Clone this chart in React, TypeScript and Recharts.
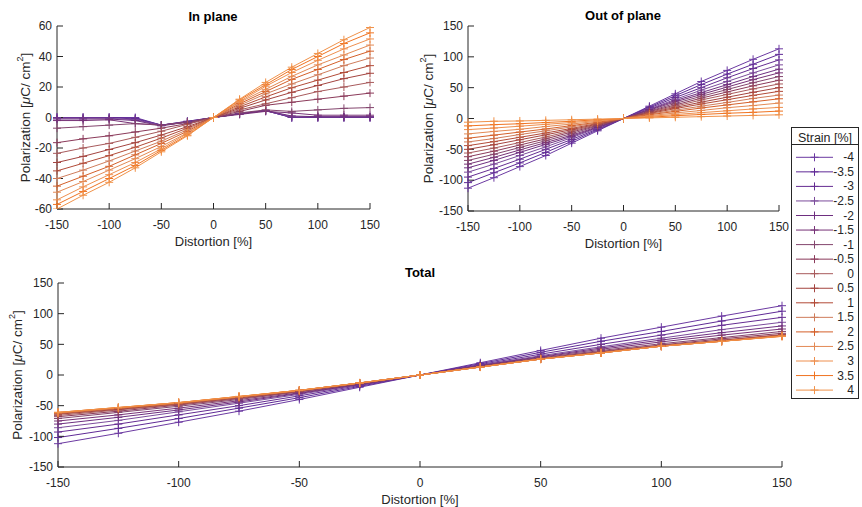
import React from 'react';
import { LineChart, Line, XAxis, YAxis } from 'recharts';

const distortion = [-150, -125, -100, -75, -50, -25, 0, 25, 50, 75, 100, 125, 150];
const strains = ['-4', '-3.5', '-3', '-2.5', '-2', '-1.5', '-1', '-0.5', '0', '0.5', '1', '1.5', '2', '2.5', '3', '3.5', '4'];
const strainColors = [
  '#6c3aa2', '#5f2a96', '#652c92', '#7c4c9c', '#6e2f80', '#773277', '#84466e', '#8b3a5a', '#a85a5c',
  '#a4443f', '#b24b38', '#cf7d5c', '#d4602a', '#e38a55', '#ee8f4f', '#f07422', '#f0924a',
];
const xTicks = [-150, -100, -50, 0, 50, 100, 150];
const inPlaneTicks = [-60, -40, -20, 0, 20, 40, 60];
const bigTicks = [-150, -100, -50, 0, 50, 100, 150];

// one row per strain, one value per distortion step
const inPlane = [
  [0, 0, 0, 0, -5, -2.5, 0, 2.5, 4.5, 0, 0, 0, 0],
  [0, 0, 0, -0.5, -5, -2.5, 0, 2.5, 4.5, 0, 0, 0, 0],
  [0, 0, 0, -1, -5, -3, 0, 2.5, 4.5, 0, 0, 0, 0],
  [-0.5, -0.5, -0.5, -1.5, -5, -3, 0, 2.5, 4.5, 0.5, 0.5, 0.5, 0.5],
  [-1, -1, -1, -2, -5.5, -3, 0, 2.5, 4.5, 1, 0.5, 0.5, 0.5],
  [-2, -2, -1.5, -4, -5, -3, 0, 2, 4, 3, 1.5, 1.5, 1.5],
  [-7, -6, -5, -4, -5, -3, 0, 3, 5, 4, 5, 6, 6.5],
  [-16.5, -14, -12, -9.5, -7, -4, 0, 4, 8, 10, 12, 14, 16],
  [-23.5, -20, -17, -13, -9, -4.5, 0, 5, 9, 13, 17, 20, 23],
  [-29.5, -25.5, -21, -16.5, -11.5, -6, 0, 6, 11.5, 16.5, 21, 25.5, 29],
  [-35, -30, -25, -19.5, -13.5, -7, 0, 7, 13.5, 19.5, 24.5, 29.5, 34],
  [-40, -34.5, -28.5, -22, -15.5, -8, 0, 8, 15.5, 22, 28, 34, 39],
  [-45, -38.5, -32, -24.5, -17, -9, 0, 9, 17, 25, 31.5, 38, 43.5],
  [-49, -42, -34.5, -27, -19, -10, 0, 10, 18.5, 27, 34.5, 41, 47.5],
  [-54, -45.5, -37.5, -29.5, -20.5, -10.5, 0, 10.5, 20.5, 29.5, 37.5, 45, 51.5],
  [-57, -48.5, -40, -31.5, -21.5, -11.5, 0, 11.5, 21.5, 31.5, 40, 48.5, 55.5],
  [-60, -51, -42.5, -33, -22.5, -12, 0, 12, 23, 33, 42, 51, 59],
];

const outOfPlane = [
  [-113, -96, -78, -60, -40, -20, 0, 20, 40, 60, 78, 96, 113],
  [-104, -88, -72, -55, -37, -18.5, 0, 18.5, 37, 55, 72, 88, 104],
  [-95, -81, -66, -50, -34, -17, 0, 17, 34, 50, 66, 81, 95],
  [-87, -74, -60, -46, -31, -15.5, 0, 15.5, 31, 46, 60, 74, 87],
  [-80, -68, -55, -42, -29, -14.5, 0, 14.5, 29, 42, 55, 68, 80],
  [-74, -63, -51, -39, -27, -13.5, 0, 13.5, 27, 39, 51, 63, 74],
  [-68, -58, -47, -36, -24.5, -12, 0, 12, 24.5, 36, 47, 58, 68],
  [-62, -53, -43, -33, -22, -11, 0, 11, 22, 33, 43, 53, 62],
  [-56, -48, -39, -30, -20, -10, 0, 10, 20, 30, 39, 48, 56],
  [-50, -42.5, -34.5, -26.5, -18, -9, 0, 9, 18, 26.5, 34.5, 42.5, 50],
  [-44, -37.5, -30.5, -23.5, -16, -8, 0, 8, 16, 23.5, 30.5, 37.5, 44],
  [-38, -32.5, -26, -20, -13.5, -7, 0, 7, 13.5, 20, 26, 32.5, 38],
  [-32, -27, -22, -17, -11.5, -6, 0, 6, 11.5, 17, 22, 27, 32],
  [-25, -21, -17.5, -13, -9, -4.5, 0, 4.5, 9, 13, 17.5, 21, 25],
  [-18, -15.5, -12.5, -9.5, -6.5, -3.5, 0, 3.5, 6.5, 9.5, 12.5, 15.5, 18],
  [-12, -10, -8.5, -6.5, -4.5, -2, 0, 2, 4.5, 6.5, 8.5, 10, 12],
  [-6, -4.5, -4, -3, -2, -1, 0, 1, 2, 3, 4, 5, 6],
];

const totalPol = [
  [-112, -95, -77, -59, -40, -20, 0, 20, 40, 60, 78, 96, 113],
  [-102, -87, -71, -54, -37, -18.5, 0, 18.5, 37, 55, 71, 88, 104],
  [-93, -80, -65, -50, -34, -17, 0, 17, 34, 50, 65, 81, 94],
  [-86, -74, -60, -46, -31.5, -16, 0, 16, 31.5, 46, 60, 74, 86],
  [-80, -69, -57, -44, -30, -15.5, 0, 15.5, 30, 44, 57, 69, 80],
  [-75, -65, -54, -42, -29, -15, 0, 15, 29, 42, 54, 65, 75],
  [-71, -61, -51, -40, -27.5, -14.5, 0, 14.5, 28, 40, 51, 61, 71],
  [-68, -59, -49, -38.5, -27, -14, 0, 14, 27, 38.5, 49, 59, 68],
  [-66, -57, -48, -37.5, -26.5, -13.5, 0, 13.5, 26.5, 37.5, 48, 57, 66],
  [-64, -56, -47, -37, -26, -13.5, 0, 13.5, 26, 37, 47.5, 56, 65],
  [-63, -55, -46.5, -36, -25.5, -13, 0, 13, 26, 36.5, 47, 55.5, 64.5],
  [-62, -54, -46, -36, -25.5, -13, 0, 13, 26, 36, 47, 55, 64],
  [-62, -54, -45.5, -35.5, -25, -13, 0, 13, 26, 36, 47, 55, 64],
  [-61.5, -53.5, -45, -35.5, -25, -13, 0, 13, 26, 36, 47, 55, 63.5],
  [-61, -53, -45, -35, -25, -13, 0, 13, 26, 36, 47, 55, 63.5],
  [-61, -53, -45, -35, -25, -13, 0, 13, 26, 36, 47, 55, 63],
  [-61, -53, -45, -35, -25, -13, 0, 13, 26, 36, 47, 55, 63],
];

const FONT = '"Liberation Sans", Arial, Helvetica, sans-serif';
const INK = '#262626';

function buildRows(values: number[][]) {
  return distortion.map((d, i) => {
    const row: Record<string, number> = { d };
    values.forEach((v, k) => {
      row[`s${k}`] = v[i];
    });
    return row;
  });
}

const PlusDot = (props: any) => {
  const { cx, cy, stroke } = props;
  if (cx == null || cy == null) return <g />;
  return (
    <g>
      <line x1={cx - 4} x2={cx + 4} y1={cy} y2={cy} stroke={stroke} strokeWidth={1} />
      <line x1={cx} x2={cx} y1={cy - 4} y2={cy + 4} stroke={stroke} strokeWidth={1} />
    </g>
  );
};

const yLabel = (lx: number) => (props: any) => {
  const vb = props.viewBox || {};
  const x = (vb.x || 0) + lx;
  const y = (vb.y || 0) + (vb.height || 0) / 2;
  return (
    <text
      x={x}
      y={y}
      transform={`rotate(-90, ${x}, ${y})`}
      textAnchor="middle"
      dominantBaseline="central"
      fontSize={13.5}
      fontFamily={FONT}
      fill={INK}
    >
      Polarization [<tspan fontStyle="italic">μ</tspan>C/ cm
      <tspan fontSize={9} dy={-5}>2</tspan>
      <tspan dy={5}>]</tspan>
    </text>
  );
};

const xLabel = (props: any) => {
  const vb = props.viewBox || {};
  const x = (vb.x || 0) + (vb.width || 0) / 2;
  const y = (vb.y || 0) + 32;
  return (
    <text x={x} y={y} textAnchor="middle" dominantBaseline="central" fontSize={13} fontFamily={FONT} fill={INK}>
      Distortion [%]
    </text>
  );
};

type PanelProps = {
  values: number[][];
  left: number;
  top: number;
  width: number;
  height: number;
  margin: { top: number; right: number; left: number; bottom: number };
  yWidth: number;
  xHeight: number;
  yDomain: [number, number];
  yTicks: number[];
  labelX: number;
  title: string;
  titleX: number;
  titleY: number;
};

function Panel(p: PanelProps) {
  const rows = buildRows(p.values);
  const tickStyle = { fill: INK, fontSize: 12, fontFamily: FONT };
  return (
    <>
      <div
        style={{
          position: 'absolute',
          left: p.titleX - 100,
          top: p.titleY - 9,
          width: 200,
          textAlign: 'center',
          fontFamily: FONT,
          fontWeight: 'bold',
          fontSize: 13,
          lineHeight: '18px',
          color: '#000',
        }}
      >
        {p.title}
      </div>
      <div style={{ position: 'absolute', left: p.left, top: p.top }}>
        <LineChart width={p.width} height={p.height} data={rows} margin={p.margin}>
          <XAxis
            dataKey="d"
            type="number"
            domain={[-150, 150]}
            ticks={xTicks}
            height={p.xHeight}
            tick={tickStyle}
            tickLine={{ stroke: INK }}
            axisLine={{ stroke: INK }}
            tickSize={-6}
            tickMargin={17}
            interval={0}
            label={xLabel}
          />
          <YAxis
            type="number"
            domain={p.yDomain}
            ticks={p.yTicks}
            width={p.yWidth}
            tick={tickStyle}
            tickLine={{ stroke: INK }}
            axisLine={{ stroke: INK }}
            tickSize={-6}
            tickMargin={11}
            interval={0}
            allowDataOverflow
            label={yLabel(p.labelX)}
          />
          {strains.map((s, k) => (
            <Line
              key={s}
              dataKey={`s${k}`}
              name={s}
              stroke={strainColors[k]}
              strokeWidth={1}
              isAnimationActive={false}
              activeDot={false}
              dot={(dp: any) => <PlusDot key={`${s}-${dp.index}`} {...dp} stroke={strainColors[k]} />}
            />
          ))}
        </LineChart>
      </div>
    </>
  );
}

function StrainLegend() {
  const left = 791;
  const top = 127;
  const w = 67;
  const h = 271;
  const rowStart = 30.3;
  const rowStep = 14.55;
  return (
    <svg style={{ position: 'absolute', left, top }} width={w + 1} height={h + 1}>
      <rect x={0.5} y={0.5} width={w} height={h} fill="#fff" stroke={INK} strokeWidth={1} />
      <text x={w / 2 + 0.5} y={11} textAnchor="middle" dominantBaseline="central" fontSize={12.5} fontFamily={FONT} fill={INK}>
        Strain [%]
      </text>
      <line x1={0.5} x2={w + 0.5} y1={17.5} y2={17.5} stroke={INK} strokeWidth={1} />
      {strains.map((s, k) => {
        const y = rowStart + k * rowStep;
        return (
          <g key={s}>
            <line x1={5} x2={42} y1={y} y2={y} stroke={strainColors[k]} strokeWidth={1} />
            <line x1={19.5} x2={27.5} y1={y} y2={y} stroke={strainColors[k]} strokeWidth={1} />
            <line x1={23.5} x2={23.5} y1={y - 4} y2={y + 4} stroke={strainColors[k]} strokeWidth={1} />
            <text x={63} y={y} textAnchor="end" dominantBaseline="central" fontSize={12} fontFamily={FONT} fill={INK}>
              {s}
            </text>
          </g>
        );
      })}
    </svg>
  );
}

export default function App() {
  return (
    <div style={{ position: 'absolute', left: 0, top: 0, width: 862, height: 507, background: '#fff', overflow: 'hidden' }}>
      <Panel
        values={inPlane}
        left={0}
        top={0}
        width={380}
        height={250}
        margin={{ top: 26, right: 10, left: 0, bottom: 0 }}
        yWidth={57}
        xHeight={41}
        yDomain={[-60, 60]}
        yTicks={inPlaneTicks}
        labelX={25}
        title="In plane"
        titleX={213}
        titleY={17}
      />
      <Panel
        values={outOfPlane}
        left={400}
        top={0}
        width={390}
        height={251}
        margin={{ top: 26, right: 11, left: 0, bottom: 0 }}
        yWidth={68}
        xHeight={40}
        yDomain={[-150, 150]}
        yTicks={bigTicks}
        labelX={28}
        title="Out of plane"
        titleX={623}
        titleY={16}
      />
      <Panel
        values={totalPol}
        left={0}
        top={240}
        width={800}
        height={267}
        margin={{ top: 43, right: 18, left: 0, bottom: 0 }}
        yWidth={58}
        xHeight={40}
        yDomain={[-150, 150]}
        yTicks={bigTicks}
        labelX={17}
        title="Total"
        titleX={420}
        titleY={273}
      />
      <StrainLegend />
    </div>
  );
}
